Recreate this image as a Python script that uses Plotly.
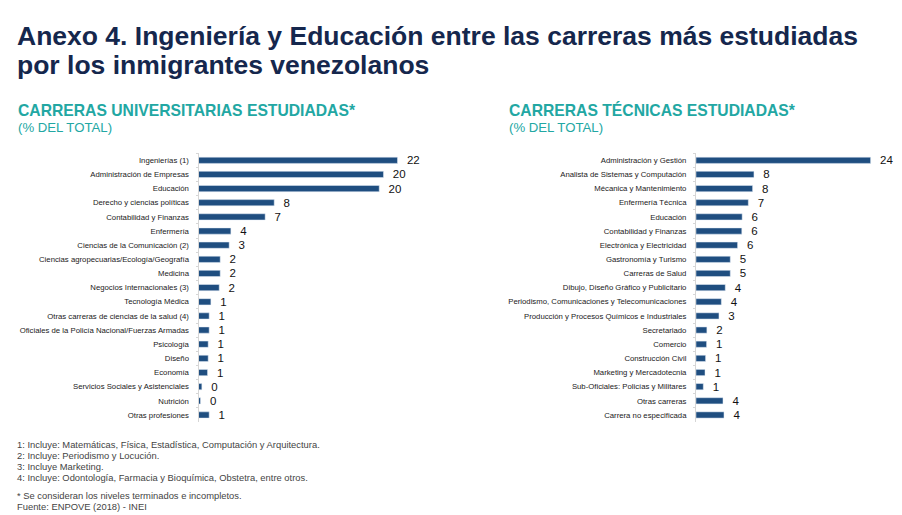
import plotly.graph_objects as go

W, H = 902, 515

uni_careers = [
    'Ingenierías (1)', 'Administración de Empresas', 'Educación',
    'Derecho y ciencias políticas', 'Contabilidad y Finanzas', 'Enfermería',
    'Ciencias de la Comunicación (2)', 'Ciencias agropecuarias/Ecología/Geografía',
    'Medicina', 'Negocios Internacionales (3)', 'Tecnología Médica',
    'Otras carreras de ciencias de la salud (4)',
    'Oficiales de la Policía Nacional/Fuerzas Armadas', 'Psicología', 'Diseño',
    'Economía', 'Servicios Sociales y Asistenciales', 'Nutrición', 'Otras profesiones',
]
uni_pct = [22.0, 20.45, 19.98, 8.37, 7.37, 3.58, 3.39, 2.4, 2.4, 2.29,
           1.37, 1.18, 1.18, 1.07, 1.07, 1.0, 0.37, 0.22, 1.18]

tec_careers = [
    'Administración y Gestión', 'Analista de Sistemas y Computación',
    'Mécanica y Mantenimiento', 'Enfermería Técnica', 'Educación',
    'Contabilidad y Finanzas', 'Electrónica y Electricidad', 'Gastronomía y Turismo',
    'Carreras de Salud', 'Dibujo, Diseño Gráfico y Publicitario',
    'Periodismo, Comunicaciones y Telecomunicaciones',
    'Producción y Procesos Químicos e Industriales', 'Secretariado', 'Comercio',
    'Construcción Civil', 'Marketing y Mercadotecnia',
    'Sub-Oficiales: Policías y Militares', 'Otras carreras', 'Carrera no especificada',
]
tec_pct = [24.4, 8.1, 7.91, 7.31, 6.45, 6.4, 5.81, 4.79, 4.79, 4.09,
           3.54, 3.21, 1.52, 1.48, 1.34, 1.26, 1.02, 3.77, 3.91]

footnotes = [
    '1: Incluye: Matemáticas, Física, Estadística, Computación y Arquitectura.',
    '2: Incluye: Periodismo y Locución.',
    '3: Incluye Marketing.',
    '4: Incluye: Odontología, Farmacia y Bioquímica, Obstetra, entre otros.',
    '* Se consideran los niveles terminados e incompletos.',
    'Fuente: ENPOVE (2018) - INEI',
]

BAR = '#1f4e80'
TEAL = '#22a7a3'
NAVY = '#15274d'
FONT = 'Liberation Sans, Arial, sans-serif'


def px(x):
    return x / W


def py(y):
    return 1 - y / H


fig = go.Figure()
fig.add_trace(go.Bar(
    x=uni_pct, y=uni_careers, orientation='h', marker_color=BAR,
    texttemplate='  %{x:.0f}', textposition='outside', cliponaxis=False,
    constraintext='none',
    textfont=dict(size=11.5, color='#111111', family=FONT),
    xaxis='x', yaxis='y', hoverinfo='skip',
))
fig.add_trace(go.Bar(
    x=tec_pct, y=tec_careers, orientation='h', marker_color=BAR,
    texttemplate='  %{x:.0f}', textposition='outside', cliponaxis=False,
    constraintext='none',
    textfont=dict(size=11.5, color='#111111', family=FONT),
    xaxis='x2', yaxis='y2', hoverinfo='skip',
))

yax = dict(autorange='reversed', showline=True, linecolor='#d6d6d6', linewidth=1,
           ticks='outside', ticklen=2, tickcolor='#d6d6d6', tickson='boundaries',
           ticklabelstandoff=7, showgrid=False,
           tickfont=dict(size=7.75, color='#1a1a1a', family=FONT),
           domain=[0.1805, 0.7025])

fig.update_layout(
    width=W, height=H,
    margin=dict(l=0, r=0, t=0, b=0),
    paper_bgcolor='white', plot_bgcolor='white',
    showlegend=False, bargap=0.56,
    font=dict(family=FONT),
    xaxis=dict(domain=[px(198.5), px(198.5 + 26 * 9.045)], range=[0, 26], visible=False),
    yaxis=dict(yax, anchor='x'),
    xaxis2=dict(domain=[px(696), px(696 + 28 * 7.156)], range=[0, 28], visible=False),
    yaxis2=dict(yax, anchor='x2'),
)

ann = []
ann.append(dict(text='<b>Anexo 4. Ingeniería y Educación entre las carreras más estudiadas</b>',
                x=px(15), y=py(35.5), font=dict(size=26.5, color=NAVY)))
ann.append(dict(text='<b>por los inmigrantes venezolanos</b>',
                x=px(15), y=py(65), font=dict(size=26.5, color=NAVY)))
for x0, name in [(16, 'CARRERAS UNIVERSITARIAS ESTUDIADAS*'), (507, 'CARRERAS TÉCNICAS ESTUDIADAS*')]:
    ann.append(dict(text='<b>' + name + '</b>', x=px(x0), y=py(110),
                    font=dict(size=15.7, color=TEAL)))
    ann.append(dict(text='(% DEL TOTAL)', x=px(x0), y=py(128),
                    font=dict(size=13.2, color=TEAL)))
for txt, yy in zip(footnotes, [444, 455, 466, 477, 495, 506]):
    ann.append(dict(text=txt, x=px(15), y=py(yy), font=dict(size=9.4, color='#444444')))

for a in ann:
    a.update(xref='paper', yref='paper', xanchor='left', yanchor='middle', showarrow=False)
    a['font']['family'] = FONT
fig.update_layout(annotations=ann)

fig.write_html('out.html', config={'displayModeBar': False},
               post_script="document.body.style.margin='0';")
